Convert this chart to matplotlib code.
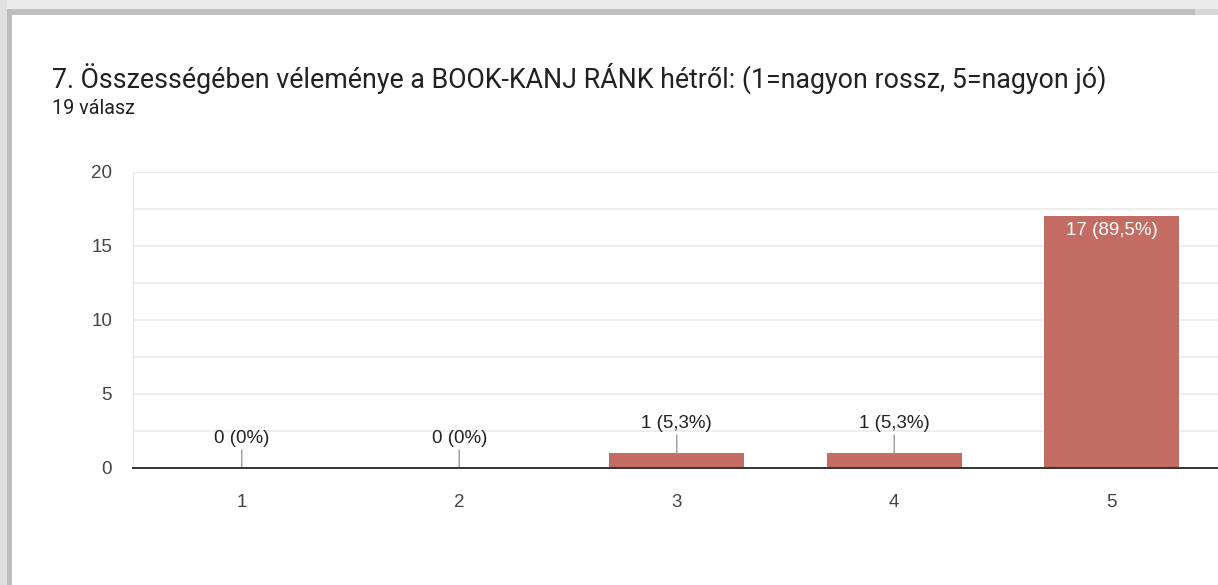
import matplotlib
matplotlib.use("Agg")
import matplotlib.pyplot as plt
from matplotlib.patches import Rectangle
from matplotlib.ticker import MultipleLocator

categories = ["1", "2", "3", "4", "5"]
counts = [0, 0, 1, 1, 17]
labels = ["0 (0%)", "0 (0%)", "1 (5,3%)", "1 (5,3%)", "17 (89,5%)"]
title = "7. Összességében véleménye a BOOK-KANJ RÁNK hétről: (1=nagyon rossz, 5=nagyon jó)"
subtitle = "19 válasz"

W, H = 1218, 585
fig = plt.figure(figsize=(W / 100, H / 100), dpi=100)
fig.patch.set_facecolor("white")

def px(x0, y0, w, h, color):
    fig.patches.append(Rectangle((x0 / W, 1 - (y0 + h) / H), w / W, h / H,
                                 transform=fig.transFigure, facecolor=color,
                                 edgecolor="none", zorder=0))

# card shadow / border
px(0, 0, W, 9, "#ebebeb")
px(0, 9, W, 6, "#bfbfbf")
px(1195, 9, 23, 6, "#d6d6d6")
px(0, 0, 7, H, "#e0e0e0")
px(7, 9, 5, H - 9, "#bdbdbd")

fig.text(52 / W, 1 - 88 / H, title, fontsize=19.3, family="Roboto", color="#202124",
         ha="left", va="baseline")
fig.text(52 / W, 1 - 114 / H, subtitle, fontsize=14.2, family="Roboto", color="#202124",
         ha="left", va="baseline")

LAB_FONT = "Liberation Sans"
ax = fig.add_axes([133 / W, 1 - 468 / H, (1220.5 - 133) / W, (468 - 172) / H])
x = list(range(1, len(categories) + 1))
bar_color = "#c36c63"
ax.bar(x, counts, width=0.62, color=bar_color, zorder=3)

ax.set_xlim(0.5, 5.5)
ax.set_ylim(0, 20)
ax.yaxis.set_major_locator(MultipleLocator(5))
ax.yaxis.set_minor_locator(MultipleLocator(2.5))
ax.grid(True, which="both", axis="y", color="#ebebeb", linewidth=1.2, zorder=0)
ax.set_xticks(x)
ax.set_xticklabels(categories)
ax.tick_params(axis="both", which="both", length=0, labelsize=13.5, labelcolor="#444444")
ax.tick_params(axis="x", pad=19)
ax.tick_params(axis="y", pad=15)
for lab in ax.get_xticklabels() + ax.get_yticklabels():
    lab.set_family(LAB_FONT)
for s in ["top", "right"]:
    ax.spines[s].set_visible(False)
ax.spines["left"].set_color("#e6e6e6")
ax.spines["bottom"].set_color("#333333")
ax.spines["bottom"].set_linewidth(1.4)
ax.spines["bottom"].set_zorder(4)

for xi, c, lab in zip(x, counts, labels):
    if c >= 5:
        ax.annotate(lab, (xi, c), xytext=(0, -4), textcoords="offset points",
                    ha="center", va="top", color="white", fontsize=13.5, family=LAB_FONT)
    else:
        ax.annotate(lab, (xi, c), xytext=(0, 15), textcoords="offset points",
                    ha="center", va="bottom", color="#222222", fontsize=13.5, family=LAB_FONT,
                    arrowprops=dict(arrowstyle="-", color="#999999", lw=1,
                                    shrinkA=0, shrinkB=0))

fig.savefig("out.png", dpi=100)
